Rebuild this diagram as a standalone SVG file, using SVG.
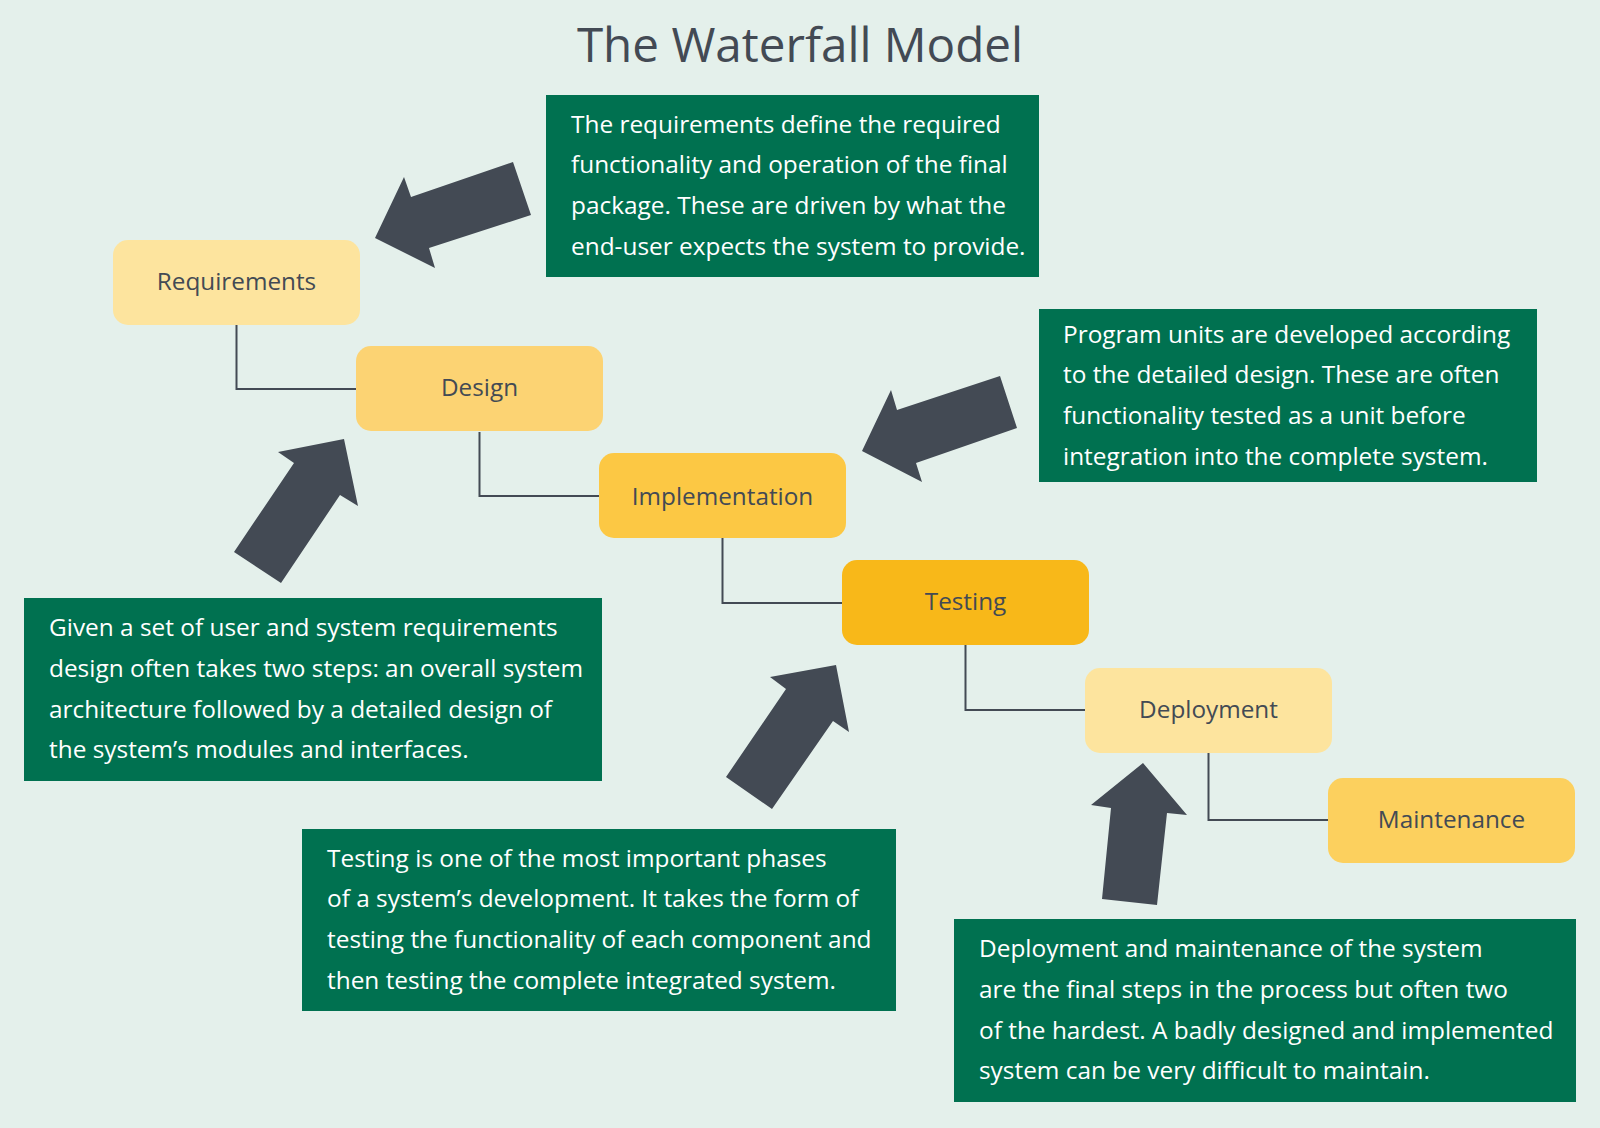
<svg xmlns="http://www.w3.org/2000/svg" width="1600" height="1128" viewBox="0 0 1600 1128">
<style>
.bg{fill:#E4F0EB}
.title{font-family:"Open Sans","Liberation Sans",sans-serif;font-size:47.6px;fill:#434A54;text-anchor:middle}
.node rect{stroke:none}
.lbl{font-family:"Open Sans","Liberation Sans",sans-serif;font-size:24.3px;fill:#434A54;text-anchor:middle}
.note rect{fill:#007150}
.note text{font-family:"Open Sans","Liberation Sans",sans-serif;font-size:24.4px;fill:#FFFFFF}
.conn{fill:none;stroke:#434A54;stroke-width:2}
.arrow{fill:#434A54}
</style>
<rect class="bg" x="0" y="0" width="1600" height="1128"/>
<text class="title" x="800" y="62">The Waterfall Model</text>

<g id="connectors">
<path class="conn" d="M236.5 324 V389 H356"/>
<path class="conn" d="M479.5 432 V496 H599"/>
<path class="conn" d="M722.5 538 V603 H842"/>
<path class="conn" d="M965.5 645 V710 H1085"/>
<path class="conn" d="M1208.5 753 V820 H1328"/>
</g>

<g id="requirements" class="node"><rect x="113" y="240" width="247" height="85" rx="15" fill="#FDE49E"/><text class="lbl" x="236.5" y="290">Requirements</text></g>
<g id="design" class="node"><rect x="356" y="346" width="247" height="85" rx="15" fill="#FCD373"/><text class="lbl" x="479.5" y="396">Design</text></g>
<g id="implementation" class="node"><rect x="599" y="453" width="247" height="85" rx="15" fill="#FCC844"/><text class="lbl" x="722.5" y="505">Implementation</text></g>
<g id="testing" class="node"><rect x="842" y="560" width="247" height="85" rx="15" fill="#F8B819"/><text class="lbl" x="965.5" y="610">Testing</text></g>
<g id="deployment" class="node"><rect x="1085" y="668" width="247" height="85" rx="15" fill="#FDE49E"/><text class="lbl" x="1208.5" y="718">Deployment</text></g>
<g id="maintenance" class="node"><rect x="1328" y="778" width="247" height="85" rx="15" fill="#FCD05E"/><text class="lbl" x="1451.5" y="828">Maintenance</text></g>

<g id="arrows">
<polygon class="arrow" points="375,238 404,177 411,197 513,162 531,215 429,248 435,268"/>
<polygon class="arrow" points="862,451 891,390 897,410 1000,376 1017,428 916,463 922,482"/>
<polygon class="arrow" points="344,439 278,452 294,463 234,552 281,583 340,495 358,506"/>
<polygon class="arrow" points="836,665 770,677 786,689 726,777 772,809 833,721 849,732"/>
<polygon class="arrow" points="1143,763 1091,805 1111,808 1102,899 1157,905 1167,813 1187,815"/>
</g>

<g id="note-requirements" class="note"><rect x="546" y="95" width="493" height="182"/>
<text x="571" y="132.5">The requirements define the required</text>
<text x="571" y="173.3">functionality and operation of the final</text>
<text x="571" y="214.1">package. These are driven by what the</text>
<text x="571" y="254.9">end-user expects the system to provide.</text></g>

<g id="note-implementation" class="note"><rect x="1039" y="309" width="498" height="173"/>
<text x="1063" y="342.5">Program units are developed according</text>
<text x="1063" y="383.3">to the detailed design. These are often</text>
<text x="1063" y="424.1">functionality tested as a unit before</text>
<text x="1063" y="464.9">integration into the complete system.</text></g>

<g id="note-design" class="note"><rect x="24" y="598" width="578" height="183"/>
<text x="49" y="636">Given a set of user and system requirements</text>
<text x="49" y="676.8">design often takes two steps: an overall system</text>
<text x="49" y="717.6">architecture followed by a detailed design of</text>
<text x="49" y="758.4">the system’s modules and interfaces.</text></g>

<g id="note-testing" class="note"><rect x="302" y="829" width="594" height="182"/>
<text x="327" y="866.5">Testing is one of the most important phases</text>
<text x="327" y="907.3">of a system’s development. It takes the form of</text>
<text x="327" y="948.1">testing the functionality of each component and</text>
<text x="327" y="988.9">then testing the complete integrated system.</text></g>

<g id="note-deployment" class="note"><rect x="954" y="919" width="622" height="183"/>
<text x="979" y="957">Deployment and maintenance of the system</text>
<text x="979" y="997.8">are the final steps in the process but often two</text>
<text x="979" y="1038.6">of the hardest. A badly designed and implemented</text>
<text x="979" y="1079.4">system can be very difficult to maintain.</text></g>
</svg>
